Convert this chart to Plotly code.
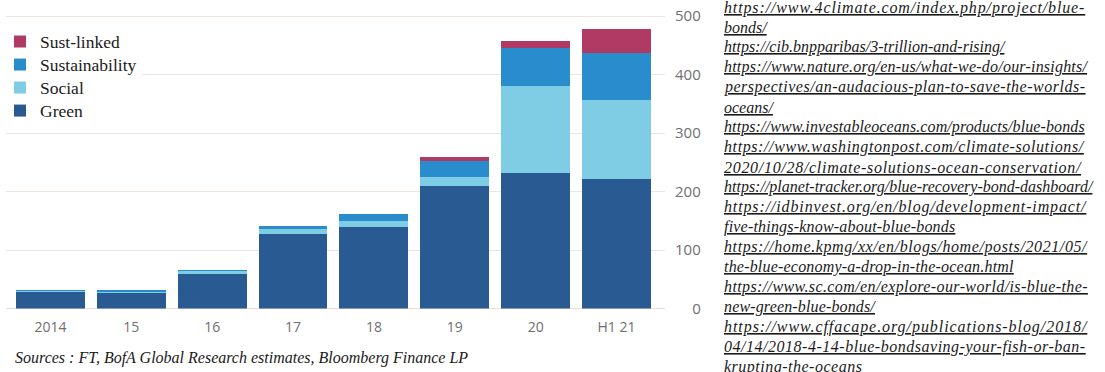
import plotly.graph_objects as go

W, H = 1105, 372

categories = ["2014", "15", "16", "17", "18", "19", "20", "H1 21"]
green = [29, 28, 59, 127, 140, 209, 232, 221]
social = [2, 1.5, 6, 9, 10, 15, 148, 135]
sustainability = [0.5, 0.5, 0.8, 5, 11.5, 28, 66, 80]
sust_linked = [0, 0, 0, 0, 0, 7.5, 11, 42]

y_ticks = [0, 100, 200, 300, 400, 500]

source_text = "Sources : FT, BofA Global Research estimates, Bloomberg Finance LP"

url_lines = [
    "https://www.4climate.com/index.php/project/blue-",
    "bonds/",
    "https://cib.bnpparibas/3-trillion-and-rising/",
    "https://www.nature.org/en-us/what-we-do/our-insights/",
    "perspectives/an-audacious-plan-to-save-the-worlds-",
    "oceans/",
    "https://www.investableoceans.com/products/blue-bonds",
    "https://www.washingtonpost.com/climate-solutions/",
    "2020/10/28/climate-solutions-ocean-conservation/",
    "https://planet-tracker.org/blue-recovery-bond-dashboard/",
    "https://idbinvest.org/en/blog/development-impact/",
    "five-things-know-about-blue-bonds",
    "https://home.kpmg/xx/en/blogs/home/posts/2021/05/",
    "the-blue-economy-a-drop-in-the-ocean.html",
    "https://www.sc.com/en/explore-our-world/is-blue-the-",
    "new-green-blue-bonds/",
    "https://www.cffacape.org/publications-blog/2018/",
    "04/14/2018-4-14-blue-bondsaving-your-fish-or-ban-",
    "krupting-the-oceans",
]

# styling only: letter-spacing (px) to imitate the justified text block
url_letter_spacing = [0.87, 0, 0, 0.21, 0.51, 0, 0.1, 0.6, 0.7, 0,
                      0.87, 0.2, 0.6, 0.2, 0.39, 0.15, 0.94, 0.52, 0.5]

series = [
    ("Green", green, "#2a5a92"),
    ("Social", social, "#7ecde4"),
    ("Sustainability", sustainability, "#288ccd"),
    ("Sust-linked", sust_linked, "#b03a64"),
]

fig = go.Figure()
for name, vals, col in series:
    fig.add_trace(go.Bar(
        x=categories, y=vals,
        name="<span style='font-size:17.5px'>" + name + "</span>",
        marker=dict(color=col, line=dict(width=0)),
        hoverinfo="skip"))

def px_x(p):
    return p / W

def px_y(p):
    return 1 - p / H

y0_px = 308.5
per_unit = 0.585
ymax = y0_px / per_unit

SERIF = "'Liberation Serif', 'Times New Roman', serif"

fig.update_layout(
    width=W, height=H,
    margin=dict(l=0, r=0, t=0, b=0),
    paper_bgcolor="white", plot_bgcolor="white",
    barmode="stack", bargap=0.148,
    showlegend=True,
    legend=dict(
        x=0.0, y=px_y(25), xanchor="left", yanchor="top",
        traceorder="reversed",
        bgcolor="white",
        font=dict(family=SERIF, size=15.4, color="#1a1a1a"),
        itemclick=False, itemdoubleclick=False,
    ),
    xaxis=dict(
        domain=[px_x(6), px_x(665)],
        range=[-0.55, 7.6],
        showgrid=False, zeroline=False, showline=False,
        ticks="", automargin=False,
        ticklabelstandoff=8,
        tickfont=dict(family="Open Sans", size=14, color="#6f6f6f"),
        fixedrange=True,
    ),
    yaxis=dict(
        domain=[px_y(y0_px), 1],
        range=[0, ymax],
        side="right", automargin=False,
        tickvals=y_ticks,
        ticktext=["\u2007" * (3 - len(str(v))) + str(v) for v in y_ticks],
        showgrid=True, gridcolor="#efe5df", gridwidth=1,
        zeroline=True, zerolinecolor="#e8ddd6", zerolinewidth=1,
        showline=False, ticks="",
        ticklabelstandoff=9,
        tickfont=dict(family="Open Sans", size=15, color="#6f6f6f"),
        fixedrange=True,
    ),
)

annotations = [
    dict(text="<i>" + source_text + "</i>", x=px_x(13), y=px_y(358),
         xref="paper", yref="paper", xanchor="left", yanchor="middle",
         showarrow=False,
         font=dict(family=SERIF, size=16, color="#1a1a1a")),
]
for i, line in enumerate(url_lines):
    ls = url_letter_spacing[i]
    annotations.append(dict(
        text="<i><u><span style='letter-spacing:%.2fpx'>%s</span></u></i>" % (ls, line),
        x=px_x(722), y=px_y(7.6 + 19.94 * i),
        xref="paper", yref="paper", xanchor="left", yanchor="middle",
        showarrow=False,
        font=dict(family=SERIF, size=16, color="#1a1a1a"),
    ))
fig.update_layout(annotations=annotations)

fig.write_html("out.html", config={"displayModeBar": False})
